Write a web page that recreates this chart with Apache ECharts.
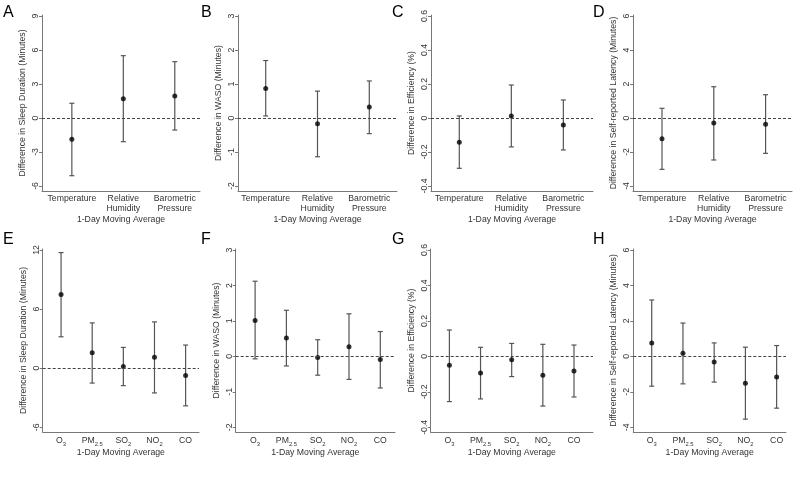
<!DOCTYPE html>
<html><head><meta charset="utf-8">
<script src="https://cdn.jsdelivr.net/npm/echarts@6/dist/echarts.min.js"></script>
<style>html,body{margin:0;padding:0;background:#fff}#c{width:800px;height:487px}</style>
</head><body><div id="c"></div>
<script>
// ---------------- data ----------------
const weatherCategories = ['Temperature', 'Relative\nHumidity', 'Barometric\nPressure'];
const pollutantCategories = ['O₃', 'PM₂.₅', 'SO₂', 'NO₂', 'CO'];
const xAxisTitle = '1-Day Moving Average';

// A: sleep duration vs weather
const durWeatherEst = [-1.88, 1.70, 1.94];
const durWeatherLow = [-5.09, -2.09, -1.06];
const durWeatherHigh = [1.30, 5.50, 4.97];
// B: WASO vs weather
const wasoWeatherEst = [0.87, -0.17, 0.32];
const wasoWeatherLow = [0.06, -1.14, -0.46];
const wasoWeatherHigh = [1.69, 0.79, 1.09];
// C: efficiency vs weather
const effWeatherEst = [-0.143, 0.012, -0.041];
const effWeatherLow = [-0.296, -0.170, -0.188];
const effWeatherHigh = [0.012, 0.194, 0.106];
// D: latency vs weather
const latWeatherEst = [-1.22, -0.29, -0.37];
const latWeatherLow = [-3.02, -2.47, -2.08];
const latWeatherHigh = [0.57, 1.84, 1.37];
// E: sleep duration vs pollutants
const durPollEst = [7.48, 1.58, 0.17, 1.11, -0.73];
const durPollLow = [3.19, -1.51, -1.77, -2.51, -3.82];
const durPollHigh = [11.74, 4.60, 2.11, 4.70, 2.35];
// F: WASO vs pollutants
const wasoPollEst = [1.01, 0.52, -0.03, 0.27, -0.09];
const wasoPollLow = [-0.07, -0.27, -0.53, -0.65, -0.89];
const wasoPollHigh = [2.12, 1.30, 0.47, 1.20, 0.70];
// G: efficiency vs pollutants
const effPollEst = [-0.050, -0.094, -0.019, -0.107, -0.083];
const effPollLow = [-0.255, -0.240, -0.114, -0.280, -0.229];
const effPollHigh = [0.149, 0.051, 0.073, 0.068, 0.064];
// H: latency vs pollutants
const latPollEst = [0.76, 0.18, -0.32, -1.51, -1.16];
const latPollLow = [-1.68, -1.55, -1.45, -3.54, -2.92];
const latPollHigh = [3.18, 1.88, 0.76, 0.52, 0.61];

// tick labels
const durTicksTop = [-6, -3, 0, 3, 6, 9];
const durTicksBottom = [-6, 0, 6, 12];
const wasoTicks = [-2, -1, 0, 1, 2, 3];
const effTicks = [-0.4, -0.2, 0, 0.2, 0.4, 0.6];
const latTicks = [-4, -2, 0, 2, 4, 6];

const durName = 'Difference in Sleep Duration (Minutes)';
const wasoName = 'Difference in WASO (Minutes)';
const effName = 'Difference in Efficiency (%)';
const latName = 'Difference in Self-reported Latency (Minutes)';

const panelLetters = ['A', 'B', 'C', 'D', 'E', 'F', 'G', 'H'];

const panels = [
  {cats: weatherCategories, est: durWeatherEst, lo: durWeatherLow, hi: durWeatherHigh, ticks: durTicksTop, name: durName},
  {cats: weatherCategories, est: wasoWeatherEst, lo: wasoWeatherLow, hi: wasoWeatherHigh, ticks: wasoTicks, name: wasoName},
  {cats: weatherCategories, est: effWeatherEst, lo: effWeatherLow, hi: effWeatherHigh, ticks: effTicks, name: effName},
  {cats: weatherCategories, est: latWeatherEst, lo: latWeatherLow, hi: latWeatherHigh, ticks: latTicks, name: latName},
  {cats: pollutantCategories, est: durPollEst, lo: durPollLow, hi: durPollHigh, ticks: durTicksBottom, name: durName},
  {cats: pollutantCategories, est: wasoPollEst, lo: wasoPollLow, hi: wasoPollHigh, ticks: wasoTicks, name: wasoName},
  {cats: pollutantCategories, est: effPollEst, lo: effPollLow, hi: effPollHigh, ticks: effTicks, name: effName},
  {cats: pollutantCategories, est: latPollEst, lo: latPollLow, hi: latPollHigh, ticks: latTicks, name: latName}
];

// ---------------- layout ----------------
const FONT = '"Liberation Sans", Arial, sans-serif';
const FS = 8.7;
const rows = [
  {top: 15, height: 176, padTop: 1 / 170, padBottom: 5 / 170, labelMargin: 3, nameGap: 24, letterTop: 5},
  {top: 249, height: 183, padTop: 1 / 177.3, padBottom: 4.7 / 177.3, labelMargin: 4, nameGap: 16, letterTop: 232}
];
const panelLayout = [
  {left: 42, right: 200, xmin: -0.58, xmax: 2.49, letterLeft: 3},
  {left: 238, right: 397, xmin: -0.535, xmax: 2.535, letterLeft: 201},
  {left: 431, right: 593, xmin: -0.544, xmax: 2.57, letterLeft: 392},
  {left: 633, right: 792, xmin: -0.56, xmax: 2.51, letterLeft: 593},
  {left: 42.7, right: 199, xmin: -0.59, xmax: 4.43, letterLeft: 3},
  {left: 235.7, right: 395, xmin: -0.62, xmax: 4.47, letterLeft: 201},
  {left: 430.7, right: 593, xmin: -0.6, xmax: 4.61, letterLeft: 392},
  {left: 633.3, right: 786, xmin: -0.59, xmax: 4.3, letterLeft: 593}
];

function catLabel(s) {
  const m = s.match(/^(.*?)([\u2080-\u2089][\u2080-\u2089.]*)$/);
  if (!m) return '{m|' + s + '}';
  const sub = m[2].replace(/[\u2080-\u2089]/g, c => String.fromCharCode(c.charCodeAt(0) - 0x2080 + 48));
  return '{m|' + m[1] + '}{s|' + sub + '}';
}

const grids = [], xAxes = [], yAxes = [], series = [], titles = [];
panels.forEach((p, i) => {
  const L = panelLayout[i];
  const R = rows[i < 4 ? 0 : 1];
  const tmin = p.ticks[0], tmax = p.ticks[p.ticks.length - 1];
  const range = tmax - tmin;
  grids.push({left: L.left, width: L.right - L.left, top: R.top, height: R.height, containLabel: false});
  const idx = p.cats.map((c, k) => k);
  xAxes.push({
    type: 'value', gridIndex: i, min: L.xmin, max: L.xmax,
    name: xAxisTitle, nameLocation: 'middle', nameGap: R.nameGap,
    nameTextStyle: {fontFamily: FONT, fontSize: FS, color: '#333'},
    axisLine: {show: true, onZero: false, lineStyle: {color: '#777', width: 1}},
    axisTick: {show: false},
    splitLine: {show: false},
    axisLabel: {
      customValues: idx, margin: R.labelMargin, color: '#333', fontFamily: FONT, fontSize: FS,
      lineHeight: 9.5,
      formatter: v => p.cats[Math.round(v)].split('\n').map(catLabel).join('\n'),
      rich: {
        m: {fontFamily: FONT, fontSize: FS, color: '#333', lineHeight: 9.5},
        s: {fontFamily: FONT, fontSize: 5.8, color: '#333', verticalAlign: 'bottom', lineHeight: 9.5, padding: [0, 0, -2, 0]}
      }
    }
  });
  yAxes.push({
    type: 'value', gridIndex: i,
    min: tmin - R.padBottom * range, max: tmax + R.padTop * range,
    name: p.name, nameLocation: 'middle', nameGap: 15,
    nameTextStyle: {fontFamily: FONT, fontSize: FS, color: '#333'},
    axisLine: {show: true, onZero: false, lineStyle: {color: '#777', width: 1}},
    axisTick: {show: true, customValues: p.ticks, length: 3, lineStyle: {color: '#777'}},
    splitLine: {show: false},
    axisLabel: {customValues: p.ticks, rotate: 90, margin: 2, color: '#333', fontFamily: FONT, fontSize: FS,
      formatter: v => String(Math.round(v * 1000) / 1000)}
  });
  series.push({
    type: 'custom', xAxisIndex: i, yAxisIndex: i, silent: true,
    data: idx.map(k => [k, p.lo[k], p.hi[k]]),
    encode: {x: 0, y: [1, 2]},
    renderItem: (params, api) => {
      const x = api.value(0);
      const a = api.coord([x, api.value(1)]);
      const b = api.coord([x, api.value(2)]);
      const cap = 2.5;
      const st = {stroke: '#555', lineWidth: 1.2};
      return {type: 'group', children: [
        {type: 'line', shape: {x1: a[0], y1: a[1], x2: b[0], y2: b[1]}, style: st},
        {type: 'line', shape: {x1: a[0] - cap, y1: a[1], x2: a[0] + cap, y2: a[1]}, style: st},
        {type: 'line', shape: {x1: b[0] - cap, y1: b[1], x2: b[0] + cap, y2: b[1]}, style: st}
      ]};
    }
  });
  series.push({
    type: 'scatter', xAxisIndex: i, yAxisIndex: i, silent: true,
    symbol: 'circle', symbolSize: 5, itemStyle: {color: '#000'},
    data: idx.map(k => [k, p.est[k]]),
    markLine: {
      silent: true, symbol: 'none', label: {show: false},
      lineStyle: {color: '#444', width: 1, type: [3, 2]},
      data: [{yAxis: 0}]
    }
  });
  titles.push({
    text: panelLetters[i], left: L.letterLeft, top: R.letterTop, padding: 0,
    textStyle: {fontFamily: FONT, fontSize: 16, fontWeight: 'normal', color: '#000'}
  });
});

const chart = echarts.init(document.getElementById('c'), null, {renderer: 'canvas'});
chart.setOption({
  animation: false,
  backgroundColor: '#fff',
  title: titles,
  grid: grids,
  xAxis: xAxes,
  yAxis: yAxes,
  series: series
});
</script>
</body></html>
